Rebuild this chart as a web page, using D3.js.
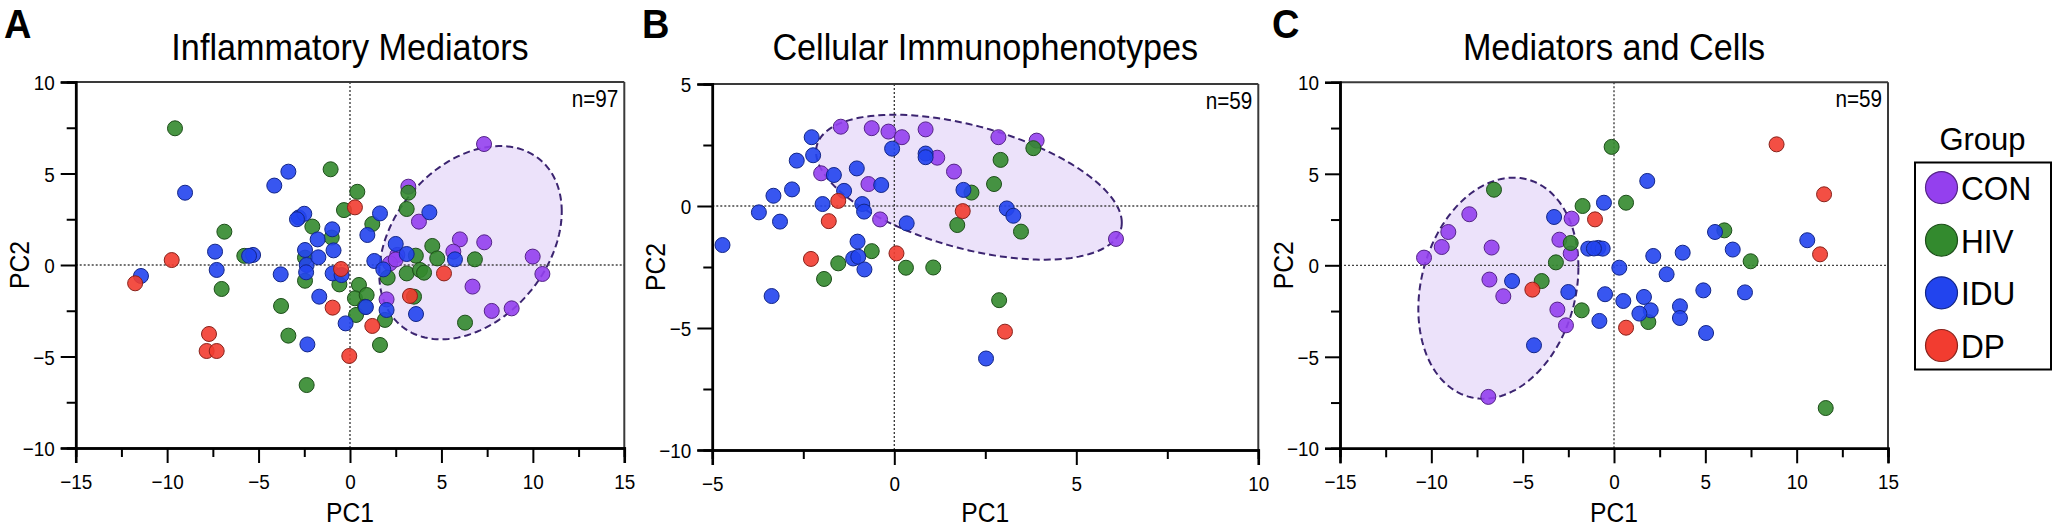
<!DOCTYPE html>
<html>
<head>
<meta charset="utf-8">
<script src="https://cdn.jsdelivr.net/npm/d3@7/dist/d3.min.js"></script>
<style>
  html, body { margin: 0; padding: 0; background: #fff; }
  svg { display: block; }
  text { font-family: "Liberation Sans", Arial, Helvetica, sans-serif; fill: #000; }
</style>
</head>
<body>
<svg id="chart" width="2054" height="527"></svg>
<script>
// ---------------- DATA ----------------
const groups = ["CON", "HIV", "IDU", "DP"];
const groupColors = ["#9440ee", "#338a2e", "#2244ee", "#f23c30"];

const titles = ["Inflammatory Mediators", "Cellular Immunophenotypes", "Mediators and Cells"];
const panelLetters = ["A", "B", "C"];
const sampleLabels = ["n=97", "n=59", "n=59"];

const ticksXA = [-15, -10, -5, 0, 5, 10, 15];
const ticksYA = [-10, -5, 0, 5, 10];
const ticksXB = [-5, 0, 5, 10];
const ticksYB = [-10, -5, 0, 5];
const ticksXC = [-15, -10, -5, 0, 5, 10, 15];
const ticksYC = [-10, -5, 0, 5, 10];

// Panel A: Inflammatory Mediators (PC1, PC2)
const medCON = [[7.33,6.61],[3.19,4.28],[3.77,2.37],[6.01,1.40],[7.34,1.24],[2.59,0.55],[5.65,0.73],[9.99,0.46],[10.52,-0.49],[2.19,0.09],[6.70,-1.18],[2.00,-1.88],[7.75,-2.51],[8.84,-2.37],[2.50,0.30]];
const medHIV = [[-9.57,7.47],[-1.06,5.23],[0.40,4.00],[3.19,3.95],[-0.33,3.00],[3.10,3.06],[1.22,2.24],[-2.06,2.10],[-6.87,1.82],[-5.78,0.50],[-1.00,1.50],[-7.02,-1.31],[-2.46,-0.86],[-0.58,-1.06],[-3.77,-2.24],[-3.37,-3.86],[-2.37,-6.56],[4.50,1.04],[3.60,0.51],[4.77,0.36],[6.83,0.31],[2.06,-0.69],[3.10,-0.46],[3.83,-0.27],[4.05,-0.42],[3.50,-1.73],[1.91,-3.00],[6.29,-3.15],[0.49,-1.09],[0.27,-1.82],[0.91,-1.64],[0.82,-2.28],[0.33,-2.73],[1.64,-4.37],[-2.46,0.40]];
const medIDU = [[-3.37,5.10],[-4.14,4.34],[-9.02,3.95],[-2.80,2.60],[-2.50,2.80],[-2.90,2.50],[-0.97,1.95],[-1.77,1.40],[-7.38,0.73],[-5.30,0.55],[-5.52,0.50],[-11.43,-0.60],[-7.29,-0.27],[-3.79,-0.51],[-2.46,0.82],[-2.37,0.00],[-1.73,0.42],[-0.95,-0.46],[-0.46,-0.55],[-1.68,-1.73],[-2.33,-4.34],[-0.24,-3.19],[1.64,2.82],[4.34,2.88],[0.95,1.64],[2.50,1.15],[3.10,0.60],[5.74,0.31],[1.33,0.22],[1.82,-0.24],[2.00,-2.46],[3.61,-2.68],[0.87,-2.30],[-0.90,0.80],[-2.40,-0.40]];
const medDP = [[0.27,3.15],[-9.75,0.27],[-11.75,-1.00],[-0.49,-0.22],[-0.95,-2.33],[-7.71,-3.77],[-7.84,-4.70],[-7.29,-4.70],[-0.04,-4.97],[5.14,-0.46],[3.28,-1.69],[1.22,-3.33]];
// ellipse: [centerX, centerY, varX, varY, covXY]
const medEllipse = [6.59, 1.22, 24.9, 27.9, 8.5];

// Panel B: Cellular Immunophenotypes
const cellCON = [[-1.47,3.25],[-2.01,1.34],[-0.71,0.90],[-0.39,-0.55],[-0.62,3.19],[-0.16,3.05],[0.21,2.82],[0.86,3.14],[1.18,1.98],[1.64,1.41],[2.86,2.82],[3.91,2.68],[6.09,-1.35]];
const cellHIV = [[2.12,0.55],[1.73,-0.78],[-0.62,-1.85],[-1.54,-2.35],[-1.93,-2.99],[0.32,-2.53],[1.07,-2.52],[3.82,2.37],[2.92,1.89],[2.74,0.90],[3.48,-1.05],[2.88,-3.86]];
const cellIDU = [[-4.72,-1.60],[-3.72,-0.26],[-3.32,0.42],[-3.14,-0.64],[-2.81,0.68],[-2.68,1.86],[-2.27,2.82],[-2.23,2.08],[-1.66,1.27],[-1.97,0.08],[-1.38,0.62],[-1.03,1.54],[-0.36,0.86],[-0.88,0.08],[-0.83,-0.23],[-0.06,2.35],[0.86,2.15],[0.86,2.00],[1.90,0.66],[0.34,-0.71],[-1.01,-1.46],[-1.13,-2.15],[-0.99,-2.08],[-0.82,-2.60],[-3.37,-3.69],[2.52,-6.25],[3.09,-0.10],[3.27,-0.40]];
const cellDP = [[-1.54,0.21],[-1.80,-0.62],[1.88,-0.21],[-2.29,-2.17],[0.06,-1.94],[3.04,-5.15]];
const cellEllipse = [2.05, 0.77, 17.64, 8.82, -6.1];

// Panel C: Mediators and Cells
const bothCON = [[-7.92,2.79],[-9.07,1.82],[-9.43,1.00],[-10.40,0.42],[-6.70,0.97],[-2.32,2.55],[-2.99,1.40],[-2.37,0.64],[-6.82,-0.78],[-6.06,-1.69],[-3.10,-2.42],[-2.63,-3.28],[-6.88,-7.19]];
const bothHIV = [[-0.13,6.47],[-6.57,4.13],[-1.72,3.24],[-2.37,1.22],[-3.18,0.16],[-3.96,-0.86],[-1.77,-2.46],[0.66,3.42],[6.04,1.91],[7.48,0.22],[1.88,-3.10],[11.59,-7.80]];
const bothIDU = [[-0.55,3.42],[-3.28,2.64],[-1.41,0.91],[-0.86,0.95],[-0.62,0.91],[-5.58,-0.86],[-2.50,-1.46],[-0.80,-3.04],[-0.49,-1.58],[-4.38,-4.37],[0.29,-0.13],[1.82,4.61],[5.53,1.82],[10.58,1.37],[6.50,0.86],[2.15,0.51],[3.76,0.69],[2.88,-0.49],[4.89,-1.37],[7.17,-1.48],[0.51,-1.95],[1.64,-1.73],[2.01,-2.46],[1.39,-2.64],[3.61,-2.24],[3.61,-2.88],[5.04,-3.70],[-1.10,0.92]];
const bothDP = [[-1.04,2.51],[-4.47,-1.33],[8.90,6.61],[11.50,3.88],[11.28,0.60],[0.66,-3.41]];
const bothEllipse = [-6.33, -1.25, 19.2, 36.5, 5.0];

// ---------------- LAYOUT ----------------
const svg = d3.select("#chart");
const FONT_TICK = 21, FONT_AXIS = 28, FONT_TITLE = 36, FONT_LETTER = 40, FONT_N = 23;

const panels = [
  { title: titles[0], letter: panelLetters[0], n: sampleLabels[0], letterX: 4,
    xr: [75.7, 624.3], yr: [448, 82], xd: [-15, 15], yd: [-10, 10],
    tx: ticksXA, ty: ticksYA, data: [medCON, medHIV, medIDU, medDP], ell: medEllipse },
  { title: titles[1], letter: panelLetters[1], n: sampleLabels[1], letterX: 642,
    xr: [712.3, 1258.3], yr: [450, 84], xd: [-5, 10], yd: [-10, 5],
    tx: ticksXB, ty: ticksYB, data: [cellCON, cellHIV, cellIDU, cellDP], ell: cellEllipse },
  { title: titles[2], letter: panelLetters[2], n: sampleLabels[2], letterX: 1272,
    xr: [1340, 1888], yr: [448.3, 82.3], xd: [-15, 15], yd: [-10, 10],
    tx: ticksXC, ty: ticksYC, data: [bothCON, bothHIV, bothIDU, bothDP], ell: bothEllipse }
];

function ctext(g, x, y, str, size, sx, anchor, weight, rot) {
  return g.append("text")
    .attr("transform", `translate(${x},${y})${rot ? " rotate(-90)" : ""} scale(${sx},1)`)
    .attr("text-anchor", anchor || "start")
    .attr("font-size", size)
    .attr("font-weight", weight || "normal")
    .text(str);
}

function minorTicks(major) {
  const out = [];
  for (let i = 0; i < major.length - 1; i++) out.push((major[i] + major[i + 1]) / 2);
  return out;
}

panels.forEach(p => {
  const g = svg.append("g");
  const x = d3.scaleLinear().domain(p.xd).range(p.xr);
  const y = d3.scaleLinear().domain(p.yd).range(p.yr);
  const left = p.xr[0], right = p.xr[1], top = p.yr[1], bottom = p.yr[0];

  // ellipse (confidence region of CON)
  const [ecx, ecy, sxx, syy, sxy] = p.ell;
  const L11 = Math.sqrt(sxx), L21 = sxy / L11, L22 = Math.sqrt(syy - L21 * L21);
  const ts = d3.range(0, 2 * Math.PI + 0.001, Math.PI / 90);
  const ellPts = ts.map(t => [x(ecx + L11 * Math.cos(t)), y(ecy + L21 * Math.cos(t) + L22 * Math.sin(t))]);
  g.append("path")
    .attr("d", d3.line()(ellPts) + "Z")
    .attr("fill", "#ece2fa")
    .attr("stroke", "#3b2470")
    .attr("stroke-width", 2)
    .attr("stroke-dasharray", "7,4");

  // zero reference lines
  g.append("line").attr("x1", x(0)).attr("x2", x(0)).attr("y1", top).attr("y2", bottom)
    .attr("stroke", "#333").attr("stroke-width", 1.3).attr("stroke-dasharray", "2,2");
  g.append("line").attr("x1", left).attr("x2", right).attr("y1", y(0)).attr("y2", y(0))
    .attr("stroke", "#444").attr("stroke-width", 1.3).attr("stroke-dasharray", "2,2");

  // frame top / right
  g.append("line").attr("x1", left).attr("x2", right).attr("y1", top).attr("y2", top)
    .attr("stroke", "#3a3a3a").attr("stroke-width", 2);
  g.append("line").attr("x1", right).attr("x2", right).attr("y1", top).attr("y2", bottom)
    .attr("stroke", "#3a3a3a").attr("stroke-width", 2);

  // axes
  const xMinor = g.append("g").attr("transform", `translate(0,${bottom})`)
    .call(d3.axisBottom(x).tickValues(minorTicks(p.tx)).tickSize(9).tickFormat(""));
  const xAxis = g.append("g").attr("transform", `translate(0,${bottom})`)
    .call(d3.axisBottom(x).tickValues(p.tx).tickSize(15).tickPadding(11).tickFormat(d3.format("d")));
  const yMinor = g.append("g").attr("transform", `translate(${left},0)`)
    .call(d3.axisLeft(y).tickValues(minorTicks(p.ty)).tickSize(9).tickFormat(""));
  const yAxis = g.append("g").attr("transform", `translate(${left},0)`)
    .call(d3.axisLeft(y).tickValues(p.ty).tickSize(15).tickFormat(d3.format("d")));

  [xMinor, xAxis, yMinor, yAxis].forEach(a => {
    a.select(".domain").attr("stroke", "#000").attr("stroke-width", 2.5);
    a.selectAll(".tick line").attr("stroke", "#000").attr("stroke-width", 2);
  });
  xAxis.selectAll(".tick text")
    .attr("font-size", FONT_TICK)
    .attr("font-family", "Liberation Sans, Arial, sans-serif")
    .attr("fill", "#000")
    .attr("transform", "scale(0.9,1)");
  yAxis.selectAll(".tick text")
    .attr("font-size", FONT_TICK)
    .attr("font-family", "Liberation Sans, Arial, sans-serif")
    .attr("fill", "#000")
    .attr("x", -21 / 0.9)
    .attr("dy", "0.36em")
    .attr("transform", "scale(0.9,1)");

  // points
  p.data.forEach((pts, gi) => {
    const col = d3.color(groupColors[gi]);
    g.append("g").selectAll("circle").data(pts).join("circle")
      .attr("cx", d => x(d[0]))
      .attr("cy", d => y(d[1]))
      .attr("r", 7.5)
      .attr("fill", groupColors[gi])
      .attr("fill-opacity", 0.9)
      .attr("stroke", col.darker(1.6))
      .attr("stroke-width", 1);
  });

  // texts
  const cxp = (left + right) / 2;
  ctext(g, cxp, 60, p.title, FONT_TITLE, 0.95, "middle");
  ctext(g, p.letterX, 38, p.letter, FONT_LETTER, 0.95, "start", "bold");
  ctext(g, cxp, 522, "PC1", FONT_AXIS, 0.88, "middle");
  ctext(g, left - 47, (top + bottom) / 2, "PC2", FONT_AXIS, 0.88, "middle", "normal", true);
  ctext(g, right - 6, top + 25, p.n, FONT_N, 0.9, "end");
});

// ---------------- LEGEND ----------------
const lg = svg.append("g");
ctext(lg, 1982.5, 150, "Group", 31, 1.0, "middle");
lg.append("rect").attr("x", 1915).attr("y", 162.5).attr("width", 136).attr("height", 207)
  .attr("fill", "none").attr("stroke", "#000").attr("stroke-width", 2);
const legendY = d3.scalePoint().domain(groups).range([187.6, 345.5]);
groups.forEach((gname, i) => {
  lg.append("circle").attr("cx", 1941.5).attr("cy", legendY(gname)).attr("r", 16)
    .attr("fill", groupColors[i]).attr("stroke", d3.color(groupColors[i]).darker(1.6)).attr("stroke-width", 1.2);
  ctext(lg, 1961, legendY(gname) + 12.5, gname, 34, 0.93, "start");
});
</script>
</body>
</html>
